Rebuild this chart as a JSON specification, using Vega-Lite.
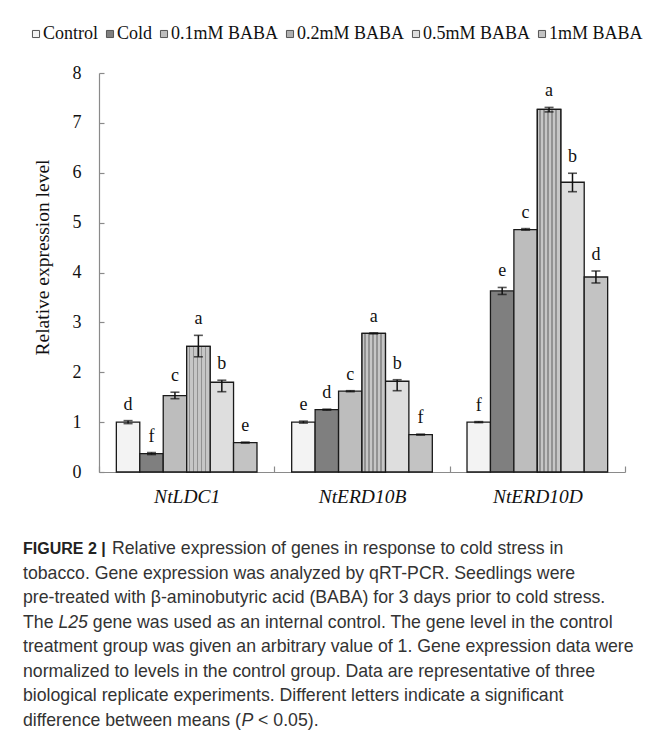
{
  "$schema": "https://vega.github.io/schema/vega-lite/v6.json",
  "background": "white",
  "padding": {"left": 23, "top": 25, "right": 5, "bottom": 5},
  "config": {
    "view": {"stroke": null},
    "font": "Liberation Serif",
    "concat": {"spacing": 31}
  },
  "datasets": {
    "bars": [
      {"gene": "NtLDC1", "treatment": "Control", "value": 1.0, "lo": 0.97, "hi": 1.03, "letter": "d"},
      {"gene": "NtLDC1", "treatment": "Cold", "value": 0.37, "lo": 0.35, "hi": 0.39, "letter": "f"},
      {"gene": "NtLDC1", "treatment": "0.1mM BABA", "value": 1.53, "lo": 1.47, "hi": 1.6, "letter": "c"},
      {"gene": "NtLDC1", "treatment": "0.2mM BABA", "value": 2.52, "lo": 2.31, "hi": 2.74, "letter": "a"},
      {"gene": "NtLDC1", "treatment": "0.5mM BABA", "value": 1.8, "lo": 1.61, "hi": 1.84, "letter": "b"},
      {"gene": "NtLDC1", "treatment": "1mM BABA", "value": 0.59, "lo": 0.58, "hi": 0.6, "letter": "e"},
      {"gene": "NtERD10B", "treatment": "Control", "value": 1.0, "lo": 0.98, "hi": 1.02, "letter": "e"},
      {"gene": "NtERD10B", "treatment": "Cold", "value": 1.25, "lo": 1.24, "hi": 1.26, "letter": "d"},
      {"gene": "NtERD10B", "treatment": "0.1mM BABA", "value": 1.62, "lo": 1.61, "hi": 1.63, "letter": "c"},
      {"gene": "NtERD10B", "treatment": "0.2mM BABA", "value": 2.78, "lo": 2.77, "hi": 2.79, "letter": "a"},
      {"gene": "NtERD10B", "treatment": "0.5mM BABA", "value": 1.82, "lo": 1.63, "hi": 1.85, "letter": "b"},
      {"gene": "NtERD10B", "treatment": "1mM BABA", "value": 0.75, "lo": 0.74, "hi": 0.76, "letter": "f"},
      {"gene": "NtERD10D", "treatment": "Control", "value": 1.0, "lo": 0.99, "hi": 1.01, "letter": "f"},
      {"gene": "NtERD10D", "treatment": "Cold", "value": 3.63, "lo": 3.56, "hi": 3.7, "letter": "e"},
      {"gene": "NtERD10D", "treatment": "0.1mM BABA", "value": 4.86, "lo": 4.85, "hi": 4.88, "letter": "c"},
      {"gene": "NtERD10D", "treatment": "0.2mM BABA", "value": 7.27, "lo": 7.22, "hi": 7.31, "letter": "a"},
      {"gene": "NtERD10D", "treatment": "0.5mM BABA", "value": 5.81, "lo": 5.62, "hi": 5.99, "letter": "b"},
      {"gene": "NtERD10D", "treatment": "1mM BABA", "value": 3.91, "lo": 3.79, "hi": 4.03, "letter": "d"}
    ],
    "caption": [
      {"line": 1, "part": "lead", "text": "FIGURE 2 |"},
      {"line": 1, "part": "main", "text": "Relative expression of genes in response to cold stress in"},
      {"line": 2, "part": "main", "text": "tobacco. Gene expression was analyzed by qRT-PCR. Seedlings were"},
      {"line": 3, "part": "main", "text": "pre-treated with β-aminobutyric acid (BABA) for 3 days prior to cold stress."},
      {"line": 4, "part": "main", "text": "The"},
      {"line": 4, "part": "ital", "text": "L25"},
      {"line": 4, "part": "tail", "text": "gene was used as an internal control. The gene level in the control"},
      {"line": 5, "part": "main", "text": "treatment group was given an arbitrary value of 1. Gene expression data were"},
      {"line": 6, "part": "main", "text": "normalized to levels in the control group. Data are representative of three"},
      {"line": 7, "part": "main", "text": "biological replicate experiments. Different letters indicate a significant"},
      {"line": 8, "part": "main", "text": "difference between means ("},
      {"line": 8, "part": "ital", "text": "P"},
      {"line": 8, "part": "tail", "text": "< 0.05)."}
    ]
  },
  "vconcat": [
    {
      "width": 526,
      "height": 399,
      "data": {"name": "bars"},
      "encoding": {
        "x": {
          "field": "gene", "type": "nominal",
          "sort": ["NtLDC1", "NtERD10B", "NtERD10D"],
          "scale": {"paddingInner": 0, "paddingOuter": 0},
          "axis": {
            "title": null, "labelAngle": 0, "tickBand": "extent", "tickSize": -6,
            "tickColor": "#8a8a8a", "domainColor": "#8a8a8a", "domainWidth": 1.2, "tickWidth": 1.2,
            "labelFont": "Liberation Serif", "labelFontStyle": "italic", "labelFontSize": 19.5,
            "labelColor": "#111", "labelPadding": 21
          }
        },
        "xOffset": {
          "field": "treatment", "type": "nominal",
          "sort": ["Control", "Cold", "0.1mM BABA", "0.2mM BABA", "0.5mM BABA", "1mM BABA"],
          "scale": {"paddingInner": 0, "paddingOuter": 0.74}
        }
      },
      "layer": [
        {
          "mark": {"type": "bar", "stroke": "#1a1a1a", "strokeWidth": 1.3},
          "encoding": {
            "y": {
              "field": "value", "type": "quantitative",
              "scale": {"domain": [0, 8], "nice": false},
              "axis": {
                "title": "Relative expression level", "values": [0, 1, 2, 3, 4, 5, 6, 7, 8], "grid": false,
                "tickSize": -5, "tickColor": "#8a8a8a", "domainColor": "#8a8a8a", "domainWidth": 1.2, "tickWidth": 1.2,
                "labelFont": "Liberation Serif", "labelFontSize": 18, "labelColor": "#111", "labelPadding": 23,
                "titleFont": "Liberation Serif", "titleFontSize": 19.5, "titleFontWeight": "normal", "titleColor": "#111",
                "titlePadding": 20, "titleY": 184
              }
            },
            "color": {
              "field": "treatment", "type": "nominal",
              "sort": ["Control", "Cold", "0.1mM BABA", "0.2mM BABA", "0.5mM BABA", "1mM BABA"],
              "scale": {
                "domain": ["Control", "Cold", "0.1mM BABA", "0.2mM BABA", "0.5mM BABA", "1mM BABA"],
                "range": ["#f3f3f3", "#7f7f7f", "#bdbdbd", "#b0b0b0", "#dedede", "#c3c3c3"]
              },
              "legend": {
                "title": null, "orient": "none", "direction": "horizontal", "columns": 6,
                "legendX": -72, "legendY": -48,
                "symbolType": "square", "symbolSize": 50, "symbolStrokeColor": "#555", "symbolStrokeWidth": 1,
                "labelFont": "Liberation Serif", "labelFontSize": 18, "labelColor": "#111",
                "labelOffset": -2, "columnPadding": 2
              }
            }
          }
        },
        {
          "transform": [{"filter": "datum.treatment == '0.2mM BABA'"}],
          "mark": {
            "type": "bar", "stroke": "#1a1a1a", "strokeWidth": 1.3,
            "color": {
              "gradient": "linear", "x1": 0, "x2": 1, "y1": 0, "y2": 0,
              "stops": [
                {"offset": 0.0, "color": "#c6c6c6"}, {"offset": 0.09, "color": "#c6c6c6"},
                {"offset": 0.09, "color": "#929292"}, {"offset": 0.16, "color": "#929292"},
                {"offset": 0.16, "color": "#c6c6c6"}, {"offset": 0.26, "color": "#c6c6c6"},
                {"offset": 0.26, "color": "#929292"}, {"offset": 0.33, "color": "#929292"},
                {"offset": 0.33, "color": "#c6c6c6"}, {"offset": 0.43, "color": "#c6c6c6"},
                {"offset": 0.43, "color": "#929292"}, {"offset": 0.5, "color": "#929292"},
                {"offset": 0.5, "color": "#c6c6c6"}, {"offset": 0.6, "color": "#c6c6c6"},
                {"offset": 0.6, "color": "#929292"}, {"offset": 0.67, "color": "#929292"},
                {"offset": 0.67, "color": "#c6c6c6"}, {"offset": 0.77, "color": "#c6c6c6"},
                {"offset": 0.77, "color": "#929292"}, {"offset": 0.84, "color": "#929292"},
                {"offset": 0.84, "color": "#c6c6c6"}, {"offset": 1.0, "color": "#c6c6c6"}
              ]
            }
          },
          "encoding": {
            "y": {"field": "value", "type": "quantitative", "title": "Relative expression level"}
          }
        },
        {
          "mark": {"type": "rule", "strokeWidth": 1.5, "color": "#111"},
          "encoding": {
            "y": {"field": "lo", "type": "quantitative", "title": "Relative expression level"},
            "y2": {"field": "hi"}
          }
        },
        {
          "mark": {"type": "tick", "size": 9, "thickness": 1.6, "color": "#111"},
          "encoding": {"y": {"field": "lo", "type": "quantitative", "title": "Relative expression level"}}
        },
        {
          "mark": {"type": "tick", "size": 9, "thickness": 1.6, "color": "#111"},
          "encoding": {"y": {"field": "hi", "type": "quantitative", "title": "Relative expression level"}}
        },
        {
          "mark": {"type": "text", "dy": -11, "baseline": "alphabetic", "fontSize": 18, "font": "Liberation Serif", "color": "#111"},
          "encoding": {
            "y": {"field": "hi", "type": "quantitative", "title": "Relative expression level"},
            "text": {"field": "letter"}
          }
        }
      ]
    },
    {
      "width": 526,
      "height": 196,
      "data": {"name": "caption"},
      "encoding": {
        "y": {"field": "line", "type": "ordinal", "axis": null, "scale": {"type": "point", "padding": 0.5}},
        "x": {"value": 0},
        "text": {"field": "text"}
      },
      "layer": [
        {
          "transform": [{"filter": "datum.part == 'lead'"}],
          "mark": {"type": "text", "align": "left", "baseline": "middle", "font": "Liberation Sans", "fontWeight": "bold", "fontSize": 16, "dx": -76, "color": "#222"}
        },
        {
          "transform": [{"filter": "datum.line == 1 && datum.part == 'main'"}],
          "mark": {"type": "text", "align": "left", "baseline": "middle", "font": "Liberation Sans", "fontSize": 17.7, "dx": 13, "color": "#333"}
        },
        {
          "transform": [{"filter": "datum.line > 1 && datum.part == 'main'"}],
          "mark": {"type": "text", "align": "left", "baseline": "middle", "font": "Liberation Sans", "fontSize": 17.7, "dx": -76, "color": "#333"}
        },
        {
          "transform": [{"filter": "datum.line == 4 && datum.part == 'ital'"}],
          "mark": {"type": "text", "align": "left", "baseline": "middle", "font": "Liberation Sans", "fontStyle": "italic", "fontSize": 17.7, "dx": -40.6, "color": "#333"}
        },
        {
          "transform": [{"filter": "datum.line == 4 && datum.part == 'tail'"}],
          "mark": {"type": "text", "align": "left", "baseline": "middle", "font": "Liberation Sans", "fontSize": 17.7, "dx": -6.2, "color": "#333"}
        },
        {
          "transform": [{"filter": "datum.line == 8 && datum.part == 'ital'"}],
          "mark": {"type": "text", "align": "left", "baseline": "middle", "font": "Liberation Sans", "fontStyle": "italic", "fontSize": 17.7, "dx": 142.4, "color": "#333"}
        },
        {
          "transform": [{"filter": "datum.line == 8 && datum.part == 'tail'"}],
          "mark": {"type": "text", "align": "left", "baseline": "middle", "font": "Liberation Sans", "fontSize": 17.7, "dx": 159.1, "color": "#333"}
        }
      ]
    }
  ]
}
